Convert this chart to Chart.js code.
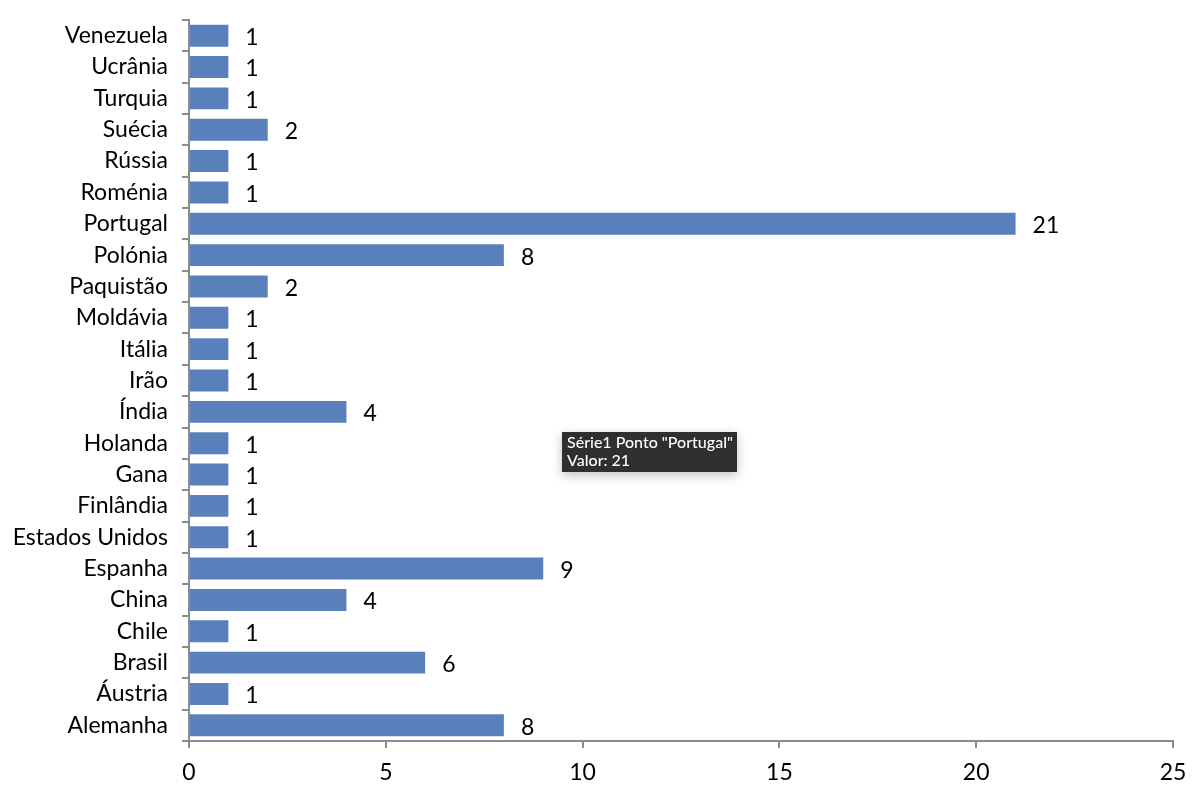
<!DOCTYPE html>
<html>
<head>
<meta charset="utf-8">
<script src="https://cdn.jsdelivr.net/npm/chart.js@4"></script>
<style>
  html, body { margin: 0; padding: 0; background: #fff; }
  #wrap { width: 1200px; height: 790px; position: relative; }
</style>
</head>
<body>
<div id="wrap"><canvas id="grafico" width="1200" height="790"></canvas></div>
<script>
// dados (de cima para baixo)
const paises = [
  "Venezuela", "Ucrânia", "Turquia", "Suécia", "Rússia", "Roménia",
  "Portugal", "Polónia", "Paquistão", "Moldávia", "Itália", "Irão",
  "Índia", "Holanda", "Gana", "Finlândia", "Estados Unidos", "Espanha",
  "China", "Chile", "Brasil", "Áustria", "Alemanha"
];
const valores = [1, 1, 1, 2, 1, 1, 21, 8, 2, 1, 1, 1, 4, 1, 1, 1, 1, 9, 4, 1, 6, 1, 8];
const ticksX = [0, 5, 10, 15, 20, 25];
const tooltipLinhas = ['Série1 Ponto "Portugal"', "Valor: 21"];

const FONTE = "Lato, 'Open Sans', sans-serif";
const CINZA = "#8c8c8c";

// rótulos de valor à direita das barras
const rotulosPlugin = {
  id: "rotulos",
  afterDatasetsDraw(chart) {
    const ctx = chart.ctx;
    const meta = chart.getDatasetMeta(0);
    ctx.save();
    ctx.font = "23px " + FONTE;
    ctx.fillStyle = "#000";
    ctx.textAlign = "left";
    ctx.textBaseline = "middle";
    meta.data.forEach((bar, i) => {
      ctx.fillText(String(valores[i]), bar.x + 17, bar.y + 2);
    });
    ctx.restore();
  }
};

// caixa de dica (como na captura original)
const dicaPlugin = {
  id: "dica",
  afterDraw(chart) {
    const ctx = chart.ctx;
    const x = 562, y = 432, w = 175, h = 40;
    ctx.save();
    ctx.shadowColor = "rgba(0,0,0,0.25)";
    ctx.shadowBlur = 10;
    ctx.shadowOffsetY = 3;
    ctx.fillStyle = "#2f2f2f";
    ctx.fillRect(x, y, w, h);
    ctx.shadowColor = "transparent";
    ctx.fillStyle = "#fff";
    ctx.font = "500 16px " + FONTE;
    ctx.textBaseline = "middle";
    ctx.fillText(tooltipLinhas[0], x + 5, y + 11);
    ctx.fillText(tooltipLinhas[1], x + 5, y + 29);
    ctx.restore();
  }
};

new Chart(document.getElementById("grafico"), {
  type: "bar",
  data: {
    labels: paises,
    datasets: [{
      label: "Série1",
      data: valores,
      backgroundColor: "#5a80bb",
      borderWidth: 0,
      categoryPercentage: 1,
      barPercentage: 0.7
    }]
  },
  options: {
    indexAxis: "y",
    responsive: false,
    animation: false,
    layout: { autoPadding: false, padding: { top: 20, right: 27, left: 0, bottom: 0 } },
    plugins: {
      legend: { display: false },
      tooltip: { enabled: false }
    },
    scales: {
      x: {
        min: 0,
        max: 25,
        afterBuildTicks: s => { s.ticks = ticksX.map(v => ({ value: v })); },
        afterFit: s => { s.height = 49; },
        grid: { drawOnChartArea: false, drawTicks: true, tickLength: 7, color: CINZA, lineWidth: 2 },
        border: { color: CINZA, width: 2 },
        ticks: { color: "#000", font: { family: FONTE, size: 23 }, padding: 11, maxRotation: 0 }
      },
      y: {
        afterFit: s => { s.width = 189; s.paddingTop = 0; s.paddingBottom = 0; },
        grid: { drawOnChartArea: false, drawTicks: true, tickLength: 7, color: CINZA, lineWidth: 2, offset: true },
        border: { color: CINZA, width: 2 },
        ticks: { color: "#000", font: { family: FONTE, size: 23 }, padding: 14, autoSkip: false }
      }
    }
  },
  plugins: [rotulosPlugin, dicaPlugin]
});
</script>
</body>
</html>
